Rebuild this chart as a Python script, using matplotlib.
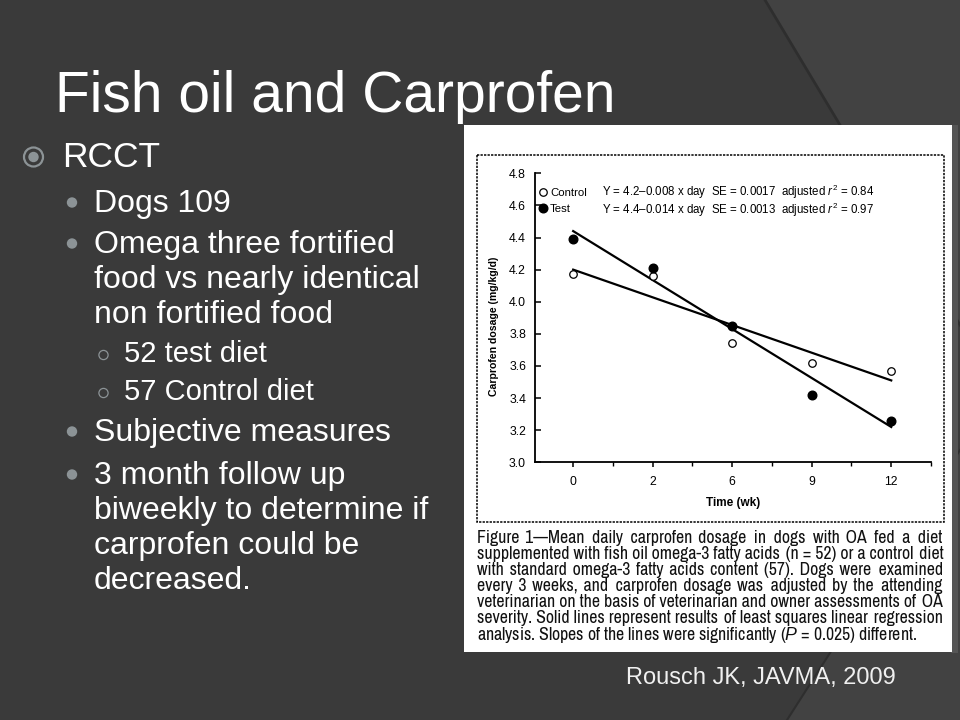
import numpy as np
import matplotlib
matplotlib.use("Agg")
import matplotlib.pyplot as plt
from matplotlib.patches import Rectangle, Circle, Polygon
from matplotlib.lines import Line2D

plt.rcParams['font.family'] = ['Liberation Sans', 'DejaVu Sans']
plt.rcParams['mathtext.fontset'] = 'custom'
plt.rcParams['mathtext.rm'] = 'Liberation Sans'
plt.rcParams['mathtext.it'] = 'Liberation Sans:italic'

# ---------------- data ----------------
weeks = ['0', '2', '6', '9', '12']
control = [4.17, 4.16, 3.74, 3.62, 3.57]
test = [4.39, 4.21, 3.85, 3.42, 3.26]
control_fit = [4.20, 3.51]   # regression line at first / last visit
test_fit = [4.44, 3.22]
yticks = [3.0, 3.2, 3.4, 3.6, 3.8, 4.0, 4.2, 4.4, 4.6, 4.8]

control_eq = "Y = 4.2\u20130.008 x day  SE = 0.0017  adjusted $r^2$ = 0.84"
test_eq = "Y = 4.4\u20130.014 x day  SE = 0.0013  adjusted $r^2$ = 0.97"

title = "Fish oil and Carprofen"
bullets = [  # (level, lines)
    (1, ["RCCT"]),
    (2, ["Dogs 109"]),
    (2, ["Omega three fortified", "food vs nearly identical", "non fortified food"]),
    (3, ["52 test diet"]),
    (3, ["57 Control diet"]),
    (2, ["Subjective measures"]),
    (2, ["3 month follow up", "biweekly to determine if", "carprofen could be", "decreased."]),
]
baselines = [167, 212, 253, 288, 323, 362, 400, 441, 484, 519, 554, 589]
citation = "Rousch JK, JAVMA, 2009"
caption = [
    "Figure 1\u2014Mean daily carprofen dosage in dogs with OA fed a diet",
    "supplemented with fish oil omega-3 fatty acids (n = 52) or a control diet",
    "with standard omega-3 fatty acids content (57). Dogs were examined",
    "every 3 weeks, and carprofen dosage was adjusted by the attending",
    "veterinarian on the basis of veterinarian and owner assessments of OA",
    "severity. Solid lines represent results of least squares linear regression",
    "analysis. Slopes of the lines were significantly ($\\mathit{P}$ = 0.025) different.",
]

W, H = 960, 720
fig = plt.figure(figsize=(9.6, 7.2), dpi=100)
fig.patch.set_facecolor('#3a3a3a')

# background (pixel coordinates)
bg = fig.add_axes([0, 0, 1, 1])
bg.set_xlim(0, W)
bg.set_ylim(H, 0)
bg.axis('off')
bg.add_patch(Polygon([(765, 0), (960, 0), (960, 325)], closed=True, fc='#424242', ec='none', zorder=1))
bg.add_patch(Polygon([(960, 450), (960, 720), (787, 720)], closed=True, fc='#424242', ec='none', zorder=1))
bg.plot([765, 960], [0, 325], color='#2e2e2e', lw=2, zorder=2)
bg.plot([960, 787], [450, 720], color='#2e2e2e', lw=1.5, zorder=2)
bg.add_patch(Rectangle((951, 125), 7, 528, fc='#555555', ec='none', zorder=4))
# white picture
bg.add_patch(Rectangle((464, 125), 488, 527, fc='white', ec='none', zorder=5))
bg.add_patch(Rectangle((477, 154.5), 467, 367, fill=False, ec='black', lw=1.1,
                       ls=(0, (1.5, 0.8)), zorder=6))

# slide title
fig.text(55 / W, 1 - 112 / H, title, fontsize=41, color='white', va='baseline', ha='left')

# bullets
bcol = '#8c9396'
xs = {1: 62, 2: 94, 3: 124}
sizes = {1: 25.5, 2: 23, 3: 21}
k = 0
for lvl, lines in bullets:
    b0 = baselines[k]
    if lvl == 1:
        bg.add_patch(Circle((33.5, b0 - 10), 9.5, fill=False, ec=bcol, lw=1.6, zorder=6))
        bg.add_patch(Circle((33.5, b0 - 10), 5.2, fc=bcol, ec='none', zorder=6))
    elif lvl == 2:
        bg.add_patch(Circle((72, b0 - 9.5), 5.2, fc=bcol, ec='none', zorder=6))
    else:
        bg.add_patch(Circle((103.5, b0 - 7), 4.6, fill=False, ec=bcol, lw=0.9, zorder=6))
    for ln in lines:
        fig.text(xs[lvl] / W, 1 - baselines[k] / H, ln, fontsize=sizes[lvl],
                 color='white', va='baseline', ha='left')
        k += 1

fig.text(626 / W, 1 - 684 / H, citation, fontsize=17, color='#f0f0f0', va='baseline', ha='left')

# ---------------- chart ----------------
ax_l, ax_r, ax_t, ax_b = 535, 931, 173.3, 462.3
ax = fig.add_axes([ax_l / W, 1 - ax_b / H, (ax_r - ax_l) / W, (ax_b - ax_t) / H])
ax.patch.set_alpha(0)
x = np.arange(len(weeks))
ax.plot([x[0], x[-1]], control_fit, color='black', lw=1.6, zorder=2)
ax.plot([x[0], x[-1]], test_fit, color='black', lw=1.6, zorder=2)
ax.plot(x, control, 'o', ms=5.4, mfc='white', mec='black', mew=0.9, zorder=3)
ax.plot(x, test, 'o', ms=6.2, mfc='black', mec='black', zorder=3)
ax.set_xlim(-0.48, 4.5)
ax.set_ylim(3.0, 4.8)
ax.set_xticks(x)
ax.set_xticklabels(weeks)
ax.set_xticks(np.arange(0.5, len(weeks), 1.0), minor=True)
ax.set_yticks(yticks)
ax.set_yticklabels([f"{v:.1f}" for v in yticks])
for s in ['top', 'right']:
    ax.spines[s].set_visible(False)
for s in ['left', 'bottom']:
    ax.spines[s].set_linewidth(1.3)
ax.tick_params(axis='y', direction='in', length=4, width=1.1, pad=6.5, labelsize=8.8)
ax.tick_params(axis='x', which='major', direction='out', length=3.5, width=1.1, pad=6.5, labelsize=8.8)
ax.tick_params(axis='x', which='minor', direction='out', length=3, width=1.0)
ax.set_ylabel("Carprofen dosage (mg/kg/d)", fontsize=7.6, fontweight='bold')
ax.yaxis.set_label_coords(-0.091, 0.47)
ax.set_xlabel("Time (wk)", fontsize=8.5, fontweight='bold')
ax.xaxis.set_label_coords(0.5, -0.14)
ax.xaxis.label.set_va('center')

handles = [Line2D([], [], ls='none', marker='o', ms=5.4, mfc='white', mec='black', mew=0.9),
           Line2D([], [], ls='none', marker='o', ms=6.2, mfc='black', mec='black')]
leg = ax.legend(handles, ['Control', 'Test'], loc='center left', bbox_to_anchor=(0.012, 0.905),
                frameon=False, fontsize=8.2, handlelength=0.6, handletextpad=0.3,
                labelspacing=0.5, borderpad=0, borderaxespad=0)
ax.text(0.1686, 0.936, control_eq, transform=ax.transAxes, fontsize=8.3, va='center', ha='left')
ax.text(0.1686, 0.873, test_eq, transform=ax.transAxes, fontsize=8.3, va='center', ha='left')

# ---------------- justified caption (one text per line, hair spaces pad gaps) ----------------
renderer = fig.canvas.get_renderer()
cap_family = ['Archivo Narrow', 'DejaVu Sans']
cx0, cx1 = 477, 943
target = cx1 - cx0
HAIR = '\u200a'

def width(s, size):
    t = fig.text(0, 0, s, fontsize=size, family=cap_family)
    w = t.get_window_extent(renderer).width
    t.remove()
    return w

fs = 14.0
maxw = max(width(ln, fs) for ln in caption[:-1])
if maxw > target * 0.99:
    fs *= target * 0.99 / maxw
hair_w = max(width('a' + HAIR * 10 + 'a', fs) - width('aa', fs), 1.0) / 10.0

for i, ln in enumerate(caption):
    words = ln.split(' ')
    y = 1 - (543.0 + i * 16.1) / H
    if i < len(caption) - 1:
        ngap = len(words) - 1
        slack = target - width(ln, fs)
        total = max(int(round(slack / hair_w)), 0)
        base, extra = divmod(total, ngap)
        s = words[0]
        for g in range(ngap):
            add = base + (1 if (g * extra) // ngap != ((g + 1) * extra) // ngap else 0)
            s += ' ' + HAIR * add + words[g + 1]
    else:
        s = ln
    fig.text(cx0 / W, y, s, fontsize=fs, family=cap_family, va='baseline', ha='left', color='#111111')

fig.savefig('out.png', dpi=100, facecolor=fig.get_facecolor())
